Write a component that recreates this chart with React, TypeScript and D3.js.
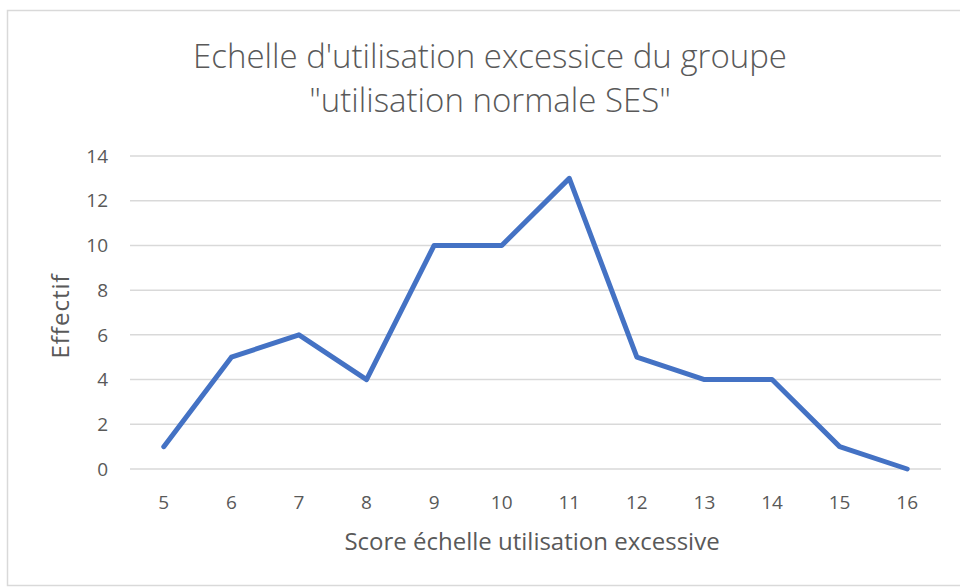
import { useEffect, useRef } from 'react';
import * as d3 from 'd3';

// chart data
const scores = ['5', '6', '7', '8', '9', '10', '11', '12', '13', '14', '15', '16'];
const effectifs = [1, 5, 6, 4, 10, 10, 13, 5, 4, 4, 1, 0];
const yTicks = [0, 2, 4, 6, 8, 10, 12, 14];
const titleLines = ["Echelle d'utilisation excessice du groupe", '"utilisation normale SES"'];

const App = () => {
  const ref = useRef<SVGSVGElement>(null);

  useEffect(() => {
    const svg = d3.select(ref.current);
    svg.selectAll('*').remove();

    const width = 960;
    const height = 588;
    const margin = { top: 156, right: 19, bottom: 119, left: 130 };
    const font = "'Open Sans', sans-serif";
    const textColor = '#595959';

    // chart border
    svg.append('rect')
      .attr('x', 7.5)
      .attr('y', 10.5)
      .attr('width', width + 20)
      .attr('height', 575)
      .attr('fill', '#fff')
      .attr('stroke', '#d9d9d9')
      .attr('stroke-width', 1.5);

    const x = d3.scaleBand()
      .domain(scores)
      .range([margin.left, width - margin.right]);
    const y = d3.scaleLinear()
      .domain([0, 14])
      .range([height - margin.bottom, margin.top]);

    // gridlines
    svg.append('g')
      .selectAll('line')
      .data(yTicks)
      .join('line')
      .attr('x1', margin.left)
      .attr('x2', width - margin.right)
      .attr('y1', d => y(d))
      .attr('y2', d => y(d))
      .attr('stroke', '#d9d9d9')
      .attr('stroke-width', 1.5);

    // y tick labels
    svg.append('g')
      .selectAll('text')
      .data(yTicks)
      .join('text')
      .attr('x', 108)
      .attr('y', d => y(d))
      .attr('dy', '0.35em')
      .attr('text-anchor', 'end')
      .attr('font-family', font)
      .attr('font-size', 19)
      .attr('fill', textColor)
      .text(d => d);

    // x tick labels
    svg.append('g')
      .selectAll('text')
      .data(scores)
      .join('text')
      .attr('x', d => x(d)! + x.bandwidth() / 2)
      .attr('y', 502)
      .attr('dy', '0.35em')
      .attr('text-anchor', 'middle')
      .attr('font-family', font)
      .attr('font-size', 19)
      .attr('fill', textColor)
      .text(d => d);

    // line
    const line = d3.line<number>()
      .x((d, i) => x(scores[i])! + x.bandwidth() / 2)
      .y(d => y(d));
    svg.append('path')
      .datum(effectifs)
      .attr('fill', 'none')
      .attr('stroke', '#4472c4')
      .attr('stroke-width', 5)
      .attr('stroke-linejoin', 'round')
      .attr('stroke-linecap', 'round')
      .attr('d', line);

    // title
    svg.append('g')
      .selectAll('text')
      .data(titleLines)
      .join('text')
      .attr('x', 490)
      .attr('y', (d, i) => 68 + i * 44)
      .attr('text-anchor', 'middle')
      .attr('font-family', font)
      .attr('font-weight', 300)
      .attr('font-size', 33)
      .attr('fill', textColor)
      .text(d => d);

    // axis titles
    svg.append('text')
      .attr('x', 532)
      .attr('y', 542)
      .attr('dy', '0.35em')
      .attr('text-anchor', 'middle')
      .attr('font-family', font)
      .attr('font-size', 24)
      .attr('fill', textColor)
      .text('Score échelle utilisation excessive');

    svg.append('text')
      .attr('transform', 'translate(61, 316) rotate(-90)')
      .attr('dy', '0.35em')
      .attr('text-anchor', 'middle')
      .attr('font-family', font)
      .attr('font-size', 24)
      .attr('letter-spacing', 1)
      .attr('fill', textColor)
      .text('Effectif');
  }, []);

  return (
    <svg
      ref={ref}
      width={960}
      height={588}
      style={{ position: 'absolute', left: 0, top: 0 }}
    />
  );
};

export default App;
